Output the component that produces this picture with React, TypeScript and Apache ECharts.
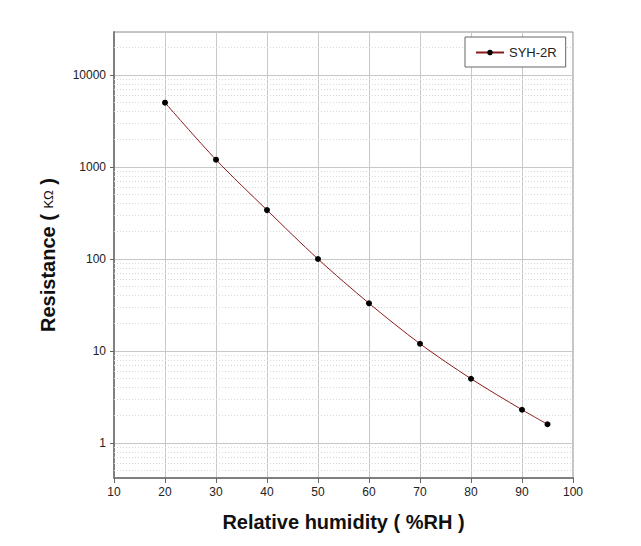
import React, { useEffect, useRef } from "react";
import * as echarts from "echarts";

const seriesName = "SYH-2R";
const humidity = [20, 30, 40, 50, 60, 70, 80, 90, 95];
const resistance = [5000, 1200, 340, 100, 33, 12, 5, 2.3, 1.6];
const xTicks = [10, 20, 30, 40, 50, 60, 70, 80, 90, 100];
const yTicks = [1, 10, 100, 1000, 10000];
const minorMultipliers = [2, 3, 4, 5, 6, 7, 8, 9];
const decades = [0.1, 1, 10, 100, 1000, 10000];
const yMin = 0.417;
const yMax = 29300;

const FONT = '"Liberation Sans", Arial, sans-serif';

export default function App() {
  const ref = useRef<HTMLDivElement>(null);
  useEffect(() => {
    if (!ref.current) return;
    const chart = echarts.init(ref.current, null, { renderer: "svg" });
    const minorValues: number[] = [];
    decades.forEach((d) =>
      minorMultipliers.forEach((m) => {
        const v = +(d * m).toPrecision(6);
        if (v > yMin && v < yMax) minorValues.push(v);
      })
    );
    chart.setOption({
      animation: false,
      backgroundColor: "#fff",
      textStyle: { fontFamily: FONT },
      grid: {
        left: 114,
        right: 68,
        top: 32,
        bottom: 68,
        show: true,
        borderColor: "#8a8a8a",
        borderWidth: 1,
        containLabel: false,
      },
      legend: {
        data: [seriesName],
        left: 465,
        top: 37,
        orient: "vertical",
        padding: [9, 9, 8, 10],
        borderColor: "#666",
        borderWidth: 1,
        borderRadius: 0,
        backgroundColor: "#fff",
        itemWidth: 28,
        itemHeight: 7,
        textStyle: { fontSize: 13, color: "#222", fontFamily: FONT },
      },
      xAxis: {
        type: "value",
        min: xTicks[0],
        max: xTicks[xTicks.length - 1],
        interval: 10,
        name: "Relative humidity ( %RH )",
        nameLocation: "middle",
        nameGap: 34,
        nameTextStyle: { fontSize: 20, fontWeight: "bold", color: "#111", fontFamily: FONT },
        axisLine: { show: true, lineStyle: { color: "#808080", width: 2 } },
        axisTick: { show: true, length: 5, lineStyle: { color: "#666" } },
        axisLabel: { fontSize: 12, color: "#222", margin: 8, fontFamily: FONT },
        splitLine: { show: true, lineStyle: { color: "#c8c8c8", width: 1 } },
      },
      yAxis: {
        type: "log",
        logBase: 10,
        min: yMin,
        max: yMax,
        name: "{b|Resistance ( }{n|KΩ}{b| )}",
        nameLocation: "middle",
        nameGap: 56,
        nameTextStyle: {
          fontFamily: FONT,
          rich: {
            b: { fontSize: 20, fontWeight: "bold", color: "#111", fontFamily: FONT },
            n: { fontSize: 13, fontWeight: "normal", color: "#111", fontFamily: FONT },
          },
        },
        axisLine: { show: true, lineStyle: { color: "#808080", width: 2 } },
        axisTick: { show: true, length: 4, customValues: yTicks, lineStyle: { color: "#666" } },
        axisLabel: {
          fontSize: 12,
          color: "#222",
          margin: 8,
          fontFamily: FONT,
          customValues: yTicks,
          formatter: (v: number) => String(v),
        },
        splitLine: { show: true, lineStyle: { color: "#c8c8c8", width: 1 } },
      },
      series: [
        {
          name: "minor-grid",
          type: "line",
          data: [],
          silent: true,
          z: 1,
          markLine: {
            silent: true,
            z: 1,
            symbol: ["none", "none"],
            label: { show: false },
            lineStyle: { color: "#d9d9d9", type: [1, 2], width: 1 },
            emphasis: { disabled: true },
            data: minorValues.map((v) => ({ yAxis: v })),
          },
        },
        {
          name: seriesName,
          type: "line",
          z: 3,
          data: humidity.map((h, i) => [h, resistance[i]]),
          smooth: 0.3,
          symbol: "circle",
          symbolSize: 6,
          itemStyle: { color: "#000" },
          lineStyle: { color: "#8b1a1a", width: 1 },
        },
      ],
    });
    return () => chart.dispose();
  }, []);
  return (
    <div
      ref={ref}
      style={{ position: "absolute", left: 0, top: 0, width: 641, height: 546 }}
    />
  );
}
